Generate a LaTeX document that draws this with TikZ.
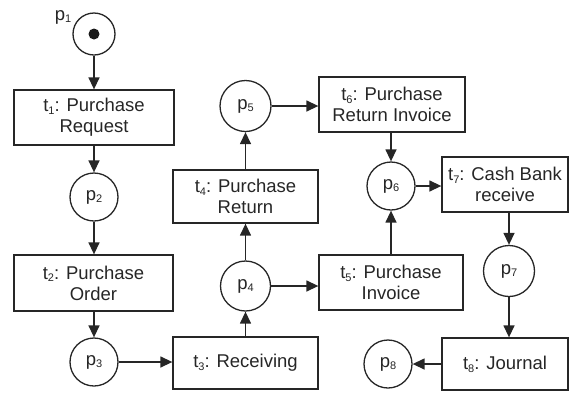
\documentclass[tikz,border=0pt]{standalone}
\usepackage{fontspec}
\setmainfont{Liberation Sans}
\usetikzlibrary{arrows.meta}
% small lowered index digit
\newcommand\sbx[1]{\raisebox{-0.28ex}{\fontsize{11}{11}\selectfont #1}}
\begin{document}
\begin{tikzpicture}[x=1pt,y=-1pt,
  every node/.style={font=\fontsize{18.5}{21}\selectfont, text=black!85, align=center, inner sep=0pt},
  trans/.style={draw=black!85, line width=1.3pt, rectangle},
  place/.style={draw=black!85, line width=1.3pt, circle},
  arc/.style={draw=black!85, line width=1.4pt, -{Triangle[length=12pt,width=11pt]}}]
\useasboundingbox (0,0) rectangle (570,392);

% places
\node[place, minimum size=42pt] (p1) at (94,34) {};
\fill[black!90] (p1.center) circle (5.5pt);
\node (p1lbl) at (63,17) {p\sbx{1}};
\node[place, minimum size=48pt] (p2) at (94,197) {p\sbx{2}};
\node[place, minimum size=48pt] (p3) at (94,362) {p\sbx{3}};
\node[place, minimum size=50pt] (p4) at (245.5,286) {p\sbx{4}};
\node[place, minimum size=51pt] (p5) at (245.5,106) {p\sbx{5}};
\node[place, minimum size=48pt] (p6) at (391,186) {p\sbx{6}};
\node[place, minimum size=51pt] (p7) at (509,271) {p\sbx{7}};
\node[place, minimum size=48pt] (p8) at (388,364) {p\sbx{8}};

% transitions
\node[trans, minimum width=160pt, minimum height=55pt] (t1) at (94,117.5) {t\sbx{1}: Purchase\\Request};
\node[trans, minimum width=159pt, minimum height=56pt] (t2) at (93.5,283) {t\sbx{2}: Purchase\\Order};
\node[trans, minimum width=145pt, minimum height=52pt] (t3) at (245.5,363) {t\sbx{3}: Receiving};
\node[trans, minimum width=145pt, minimum height=53pt] (t4) at (245.5,196.5) {t\sbx{4}: Purchase\\Return};
\node[trans, minimum width=144pt, minimum height=55pt] (t5) at (391,282.5) {t\sbx{5}: Purchase\\Invoice};
\node[trans, minimum width=146pt, minimum height=55pt] (t6) at (392,104.5) {t\sbx{6}: Purchase\\Return Invoice};
\node[trans, minimum width=126pt, minimum height=55pt] (t7) at (505,184.5) {t\sbx{7}: Cash Bank\\receive};
\node[trans, minimum width=126pt, minimum height=52pt] (t8) at (505,364) {t\sbx{8}: Journal};

% arcs
\draw[arc] (p1) -- (t1);
\draw[arc] (t1) -- (p2);
\draw[arc] (p2) -- (p2 |- t2.north);
\draw[arc] (p2 |- t2.south) -- (p3);
\draw[arc] (p3) -- (p3 -| t3.west);
\draw[arc] (t3) -- (p4);
\draw[arc] (p4) -- (t4);
\draw[arc] (t4) -- (p5);
\draw[arc] (p5) -- (p5 -| t6.west);
\draw[arc] (p4) -- (p4 -| t5.west);
\draw[arc] (t6.south -| p6) -- (p6);
\draw[arc] (t5.north -| p6) -- (p6);
\draw[arc] (p6) -- (p6 -| t7.west);
\draw[arc] (t7.south -| p7) -- (p7);
\draw[arc] (p7) -- (p7 |- t8.north);
\draw[arc] (t8.west |- p8) -- (p8);
\end{tikzpicture}
\end{document}
